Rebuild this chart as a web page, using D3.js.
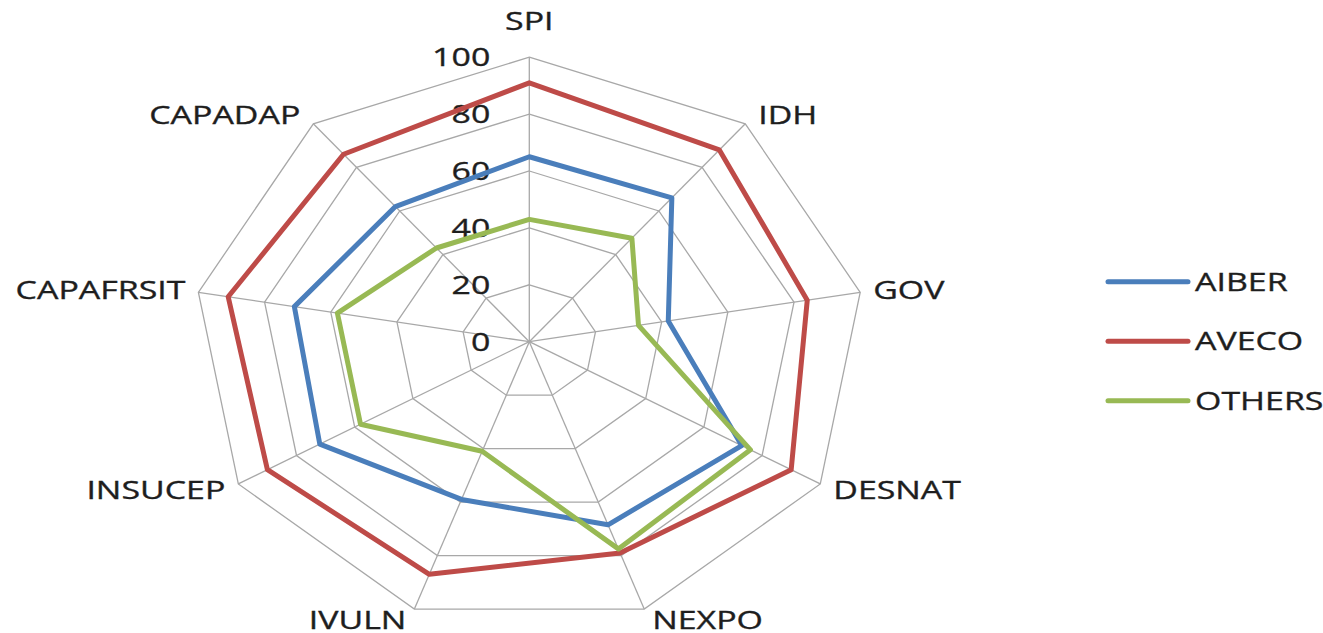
<!DOCTYPE html>
<html>
<head>
<meta charset="UTF-8">
<script src="https://cdnjs.cloudflare.com/ajax/libs/d3/7.8.5/d3.min.js"></script>
<style>
  body { margin: 0; background: #fff; }
  svg text { font-family: "Open Sans", sans-serif; font-size: 25.5px; fill: #1e1e1e; stroke: #1e1e1e; stroke-width: 0.35px; }
</style>
</head>
<body>
<div id="radar"></div>
<script>
// axes of the radar, clockwise from the top
var categories = ["SPI", "IDH", "GOV", "DESNAT", "NEXPO", "IVULN", "INSUCEP", "CAPAFRSIT", "CAPADAP"];
var seriesNames = ["AIBER", "AVECO", "OTHERS"];
var aiber  = [65, 66, 42, 73, 68.5, 59, 72, 71, 62];
var aveco  = [91, 88, 84, 90, 79, 87, 90, 91, 86];
var others = [43, 47.5, 33, 76, 77.5, 41, 58, 58, 43];
var tickValues = [0, 20, 40, 60, 80, 100];

var width = 1323, height = 633;
var cx = 529.3, cy = 341.7;
var stretch = 1.33; // text is drawn wide like the original

var color = d3.scaleOrdinal().domain(seriesNames).range(["#4a7ebb", "#be4b48", "#98b954"]);

// the chart is wider than tall, so x and y get their own radius scale
var rx = d3.scaleLinear().domain([0, 100]).range([0, 336]);
var ry = d3.scaleLinear().domain([0, 100]).range([0, 284.5]);
var angle = d3.scalePoint().domain(categories)
  .range([0, 2 * Math.PI * (categories.length - 1) / categories.length]);

function px(cat, v) { return cx + rx(v) * Math.sin(angle(cat)); }
function py(cat, v) { return cy - ry(v) * Math.cos(angle(cat)); }

var svg = d3.select("#radar").append("svg")
  .attr("width", width)
  .attr("height", height);

var grid = svg.append("g").attr("class", "grid");

var ring = d3.line()
  .x(function(d) { return d[0]; })
  .y(function(d) { return d[1]; })
  .curve(d3.curveLinearClosed);

tickValues.slice(1).forEach(function(t) {
  grid.append("path")
    .attr("d", ring(categories.map(function(c) { return [px(c, t), py(c, t)]; })))
    .attr("fill", "none")
    .attr("stroke", "#a8a8a8")
    .attr("stroke-width", 1.3);
});

grid.selectAll("line.spoke")
  .data(categories)
  .enter().append("line")
  .attr("class", "spoke")
  .attr("x1", cx).attr("y1", cy)
  .attr("x2", function(c) { return px(c, 100); })
  .attr("y2", function(c) { return py(c, 100); })
  .attr("stroke", "#a8a8a8")
  .attr("stroke-width", 1.3);

// tick labels along the top spoke
svg.selectAll("text.tick")
  .data(tickValues)
  .enter().append("text")
  .attr("class", "tick")
  .attr("text-anchor", "end")
  .attr("transform", function(t) {
    return "translate(" + (cx - 39) + "," + (py(categories[0], t) + 9) + ") scale(" + stretch + ",1)";
  })
  .text(function(t) { return t; });

// category labels outside the outer ring
svg.selectAll("text.cat")
  .data(categories)
  .enter().append("text")
  .attr("class", "cat")
  .attr("text-anchor", function(c) {
    var s = Math.sin(angle(c));
    return Math.abs(s) < 0.1 ? "middle" : (s > 0 ? "start" : "end");
  })
  .attr("transform", function(c) {
    var a = angle(c), s = Math.sin(a);
    var x = px(c, 100), y = py(c, 100);
    if (Math.abs(s) < 0.1) {
      y = y - 36;
    } else {
      x = x + (s > 0 ? 1 : -1) * (Math.abs(s) > 0.5 ? 13 : 8);
      y = y - 12 * Math.cos(a);
    }
    return "translate(" + x + "," + (y + 9) + ") scale(" + stretch + ",1)";
  })
  .text(function(c) { return c; });

var seriesData = [aiber, aveco, others];

svg.selectAll("path.series")
  .data(seriesData)
  .enter().append("path")
  .attr("class", "series")
  .attr("d", function(vals) {
    return ring(vals.map(function(v, i) { return [px(categories[i], v), py(categories[i], v)]; }));
  })
  .attr("fill", "none")
  .attr("stroke", function(d, i) { return color(seriesNames[i]); })
  .attr("stroke-width", 5)
  .attr("stroke-linejoin", "round");

// legend
var legend = svg.selectAll("g.legend")
  .data(seriesNames)
  .enter().append("g")
  .attr("class", "legend")
  .attr("transform", function(d, i) { return "translate(1108," + (281.7 + i * 59.5) + ")"; });

legend.append("line")
  .attr("x1", 0).attr("x2", 80)
  .attr("stroke", function(d) { return color(d); })
  .attr("stroke-width", 5)
  .attr("stroke-linecap", "round");

legend.append("text")
  .attr("transform", "translate(87,9) scale(" + stretch + ",1)")
  .text(function(d) { return d; });
</script>
</body>
</html>
